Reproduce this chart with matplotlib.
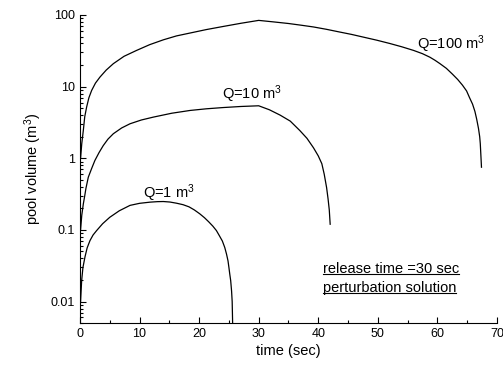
import numpy as np
import matplotlib
matplotlib.use("Agg")
import matplotlib.pyplot as plt
from matplotlib.ticker import FixedLocator, LogLocator, FuncFormatter, NullFormatter
from matplotlib.lines import Line2D

plt.rcParams['font.family'] = ['Liberation Sans', 'DejaVu Sans']
plt.rcParams['mathtext.fontset'] = 'custom'
plt.rcParams['mathtext.rm'] = 'Liberation Sans'
plt.rcParams['mathtext.it'] = 'Liberation Sans'

# Q = 100 m3
t100 = [0.1, 0.3, 0.56, 0.8, 1.12, 1.5, 1.96, 2.6, 3.36, 4.4, 5.6, 7.4, 9.5, 11.7,
        14, 16.2, 18.5, 21.2, 24, 27, 30, 32.5, 35, 37.1, 39.2, 41.4, 43.5, 45.6,
        47.6, 49.8, 52, 54, 56, 57.5, 58.75, 59.6, 60.4, 61.5, 62.5, 63.4, 64.2,
        64.9, 65.4, 65.9, 66.3, 66.6, 66.9, 67.1, 67.2, 67.3, 67.4]
v100 = [1.0, 1.6, 2.44, 3.8, 5.2, 7.0, 8.85, 11.2, 13.6, 17, 20.9, 26.5, 32, 38.5,
        45, 51, 56, 62.5, 69, 76.5, 84, 80, 76, 72, 68, 63, 58, 53.5,
        49, 44.5, 40, 36, 32, 28.8, 25.7, 23.3, 21, 18, 15, 12.6, 10.5,
        8.7, 7, 5.7, 4.5, 3.5, 2.6, 2.0, 1.6, 1.1, 0.75]

# Q = 10 m3
t10 = [0.1, 0.3, 0.56, 0.8, 1.0, 1.4, 1.96, 2.5, 3.2, 3.9, 4.7, 5.6, 7.0, 8.4,
       10.3, 12.3, 15.4, 18.5, 21.2, 24, 27, 30, 31.8, 33.6, 35.3, 36.9, 38.1,
       39.2, 40.0, 40.6, 41.0, 41.4, 41.65, 41.85, 42.0]
v10 = [0.1, 0.16, 0.23, 0.3, 0.38, 0.545, 0.72, 0.93, 1.2, 1.5, 1.85, 2.2, 2.65, 3.03,
       3.42, 3.75, 4.25, 4.65, 4.9, 5.1, 5.28, 5.4, 4.75, 4.0, 3.3, 2.44, 1.9,
       1.4, 1.08, 0.84, 0.6, 0.39, 0.27, 0.19, 0.12]

# Q = 1 m3
t1 = [0.1, 0.28, 0.5, 0.84, 1.2, 1.68, 2.2, 2.8, 3.8, 5.0, 6.6, 8.4, 10.0, 11.75,
      13, 14, 15.1, 16.2, 17.3, 18.3, 19.2, 20.1, 20.9, 21.6, 22.3, 22.9, 23.4,
      23.9, 24.3, 24.6, 24.85, 25.0, 25.15, 25.3, 25.45, 25.55, 25.65]
v1 = [0.01, 0.0196, 0.03, 0.042, 0.056, 0.071, 0.085, 0.098, 0.122, 0.15, 0.185,
      0.22, 0.235, 0.244, 0.248, 0.249, 0.245, 0.236, 0.225, 0.21, 0.19, 0.168,
      0.148, 0.13, 0.113, 0.098, 0.083, 0.07, 0.057, 0.046, 0.037, 0.03, 0.024,
      0.0196, 0.014, 0.01, 0.004]

fig = plt.figure(figsize=(5.03, 3.74), dpi=100)
ax = fig.add_axes([0.159, 0.136, 0.829, 0.824])

for t, v in [(t100, v100), (t10, v10), (t1, v1)]:
    ax.plot(t, v, color='black', lw=0.9)

ax.set_yscale('log')
ax.set_xlim(0, 70)
ax.set_ylim(0.005, 100)

ax.xaxis.set_major_locator(FixedLocator(np.arange(0, 71, 10)))
ax.xaxis.set_minor_locator(FixedLocator(np.arange(5, 70, 10)))
ax.yaxis.set_major_locator(LogLocator(base=10, numticks=10))
ax.yaxis.set_minor_locator(LogLocator(base=10, subs=np.arange(2, 10), numticks=20))
ax.yaxis.set_major_formatter(FuncFormatter(lambda y, p: '%g' % y))
ax.yaxis.set_minor_formatter(NullFormatter())

ax.tick_params(which='both', direction='in', labelsize=9, width=0.8)
ax.tick_params(which='major', length=4)
ax.tick_params(which='minor', length=2.5)
ax.spines['top'].set_visible(False)
ax.spines['right'].set_visible(False)
for s in ['left', 'bottom']:
    ax.spines[s].set_linewidth(0.8)

ax.set_xlabel('time (sec)', fontsize=10.5, labelpad=3)
ax.set_ylabel('pool volume (m$^3$)', fontsize=10.5, labelpad=5)

ax.text(56.6, 34, 'Q=100 m$^3$', fontsize=10.5, va='baseline')
ax.text(23.8, 6.8, 'Q=10 m$^3$', fontsize=10.5, va='baseline')
ax.text(10.6, 0.28, 'Q=1 m$^3$', fontsize=10.5, va='baseline')

notes = [ax.text(40.8, 0.0289, 'release time =30 sec', fontsize=10.5, va='center'),
         ax.text(40.8, 0.0157, 'perturbation solution', fontsize=10.5, va='center')]

fig.canvas.draw()
r = fig.canvas.get_renderer()
inv = fig.transFigure.inverted()
for n in notes:
    bb = n.get_window_extent(r)
    (x0, y0), (x1, y1) = inv.transform([[bb.x0, bb.y0], [bb.x1, bb.y1]])
    yl = y0 + 0.1 * (y1 - y0)
    fig.add_artist(Line2D([x0, x1], [yl, yl], color='black', lw=0.8,
                          transform=fig.transFigure))

fig.savefig('out.png', dpi=100)
